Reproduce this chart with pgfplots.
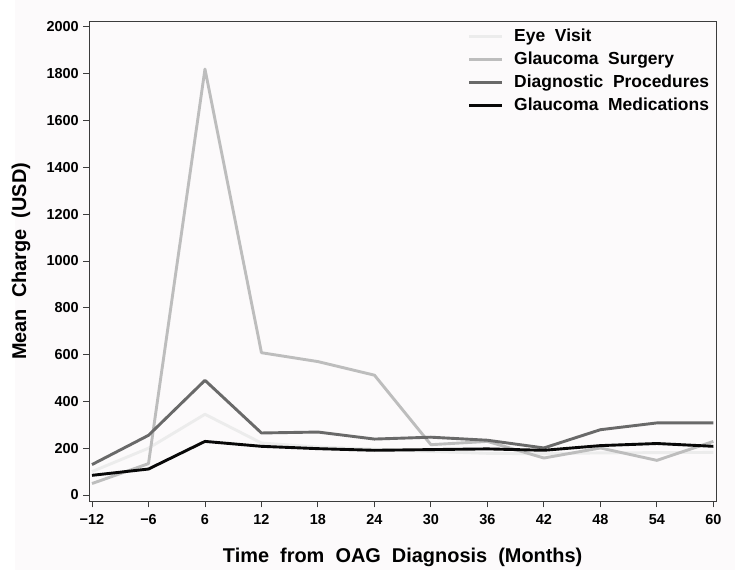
\documentclass[border=0pt]{standalone}
\usepackage{fontspec}
\setmainfont{Liberation Sans}
\usepackage{pgfplots}
\pgfplotsset{compat=1.18}
\definecolor{bgtint}{RGB}{252,250,251}
\definecolor{eyec}{RGB}{236,236,236}
\definecolor{surgc}{RGB}{189,189,189}
\definecolor{diagc}{RGB}{105,105,105}
\definecolor{medc}{RGB}{8,8,8}
\definecolor{framec}{RGB}{60,60,60}
\begin{document}
\begin{tikzpicture}
\fill[bgtint] (-77bp,-75bp) rectangle (643bp,495bp);
\useasboundingbox (-92bp,-91bp) rectangle (647bp,495bp);
\begin{axis}[
  at={(0,0)}, anchor=origin,
  scale only axis,
  width=627bp, height=480bp,
  xmin=-0.05, xmax=11.05,
  ymin=-27, ymax=2024,
  axis background/.style={fill=bgtint},
  axis line style={framec, line width=0.9bp},
  xtick={0,1,2,3,4,5,6,7,8,9,10,11},
  xticklabels={−12,−6,6,12,18,24,30,36,42,48,54,60},
  ytick={0,200,400,600,800,1000,1200,1400,1600,1800,2000},
  /pgf/number format/assume math mode=true,
  /pgf/number format/1000 sep={},
  tick align=outside,
  xtick pos=bottom, ytick pos=left,
  major tick length=6bp,
  tick style={framec, line width=0.9bp},
  ticklabel style={font=\fontsize{14.5}{14.5}\selectfont\bfseries},
  xticklabel style={anchor=base, yshift=-17bp},
  yticklabel style={anchor=east, xshift=-1bp},
  xlabel={Time\ \ from\ \ OAG\ \ Diagnosis\ \ (Months)},
  ylabel={Mean\ \ Charge\ \ (USD)},
  label style={font=\fontsize{20}{24}\selectfont\bfseries},
  xlabel style={at={(axis description cs:0.5,0)}, anchor=base, yshift=-61bp},
  ylabel style={at={(axis description cs:-0.1085,0.5)}, anchor=center},
  legend style={at={(0.996,0.992)}, anchor=north east, draw=none, fill=none,
    font=\fontsize{17.5}{17.5}\selectfont\bfseries,
    row sep=3.9bp, column sep=0bp,
    nodes={inner sep=1.5bp, text height=12.5bp, text depth=3.5bp},
    /tikz/every odd column/.append style={column sep=9bp}},
  legend cell align=left,
  legend image code/.code={\draw[#1] (0bp,0bp) -- (33bp,0bp);},
  every axis plot/.append style={line width=2.9bp, line join=round},
]
\addplot[eyec] coordinates {(0,100) (1,200) (2,345) (3,222) (4,205) (5,196) (6,186) (7,178) (8,176) (9,180) (10,181) (11,182)};
\addlegendentry{Eye\ \ Visit}
\addplot[surgc] coordinates {(0,49) (1,134) (2,1820) (3,608) (4,570) (5,512) (6,215) (7,229) (8,158) (9,201) (10,148) (11,229)};
\addlegendentry{Glaucoma\ \ Surgery}
\addplot[diagc] coordinates {(0,130) (1,255) (2,490) (3,265) (4,269) (5,239) (6,247) (7,234) (8,201) (9,279) (10,308) (11,308)};
\addlegendentry{Diagnostic\ \ Procedures}
\addplot[medc] coordinates {(0,84) (1,111) (2,229) (3,208) (4,198) (5,191) (6,194) (7,197) (8,191) (9,211) (10,220) (11,208)};
\addlegendentry{Glaucoma\ \ Medications}
\end{axis}
\end{tikzpicture}
\end{document}
